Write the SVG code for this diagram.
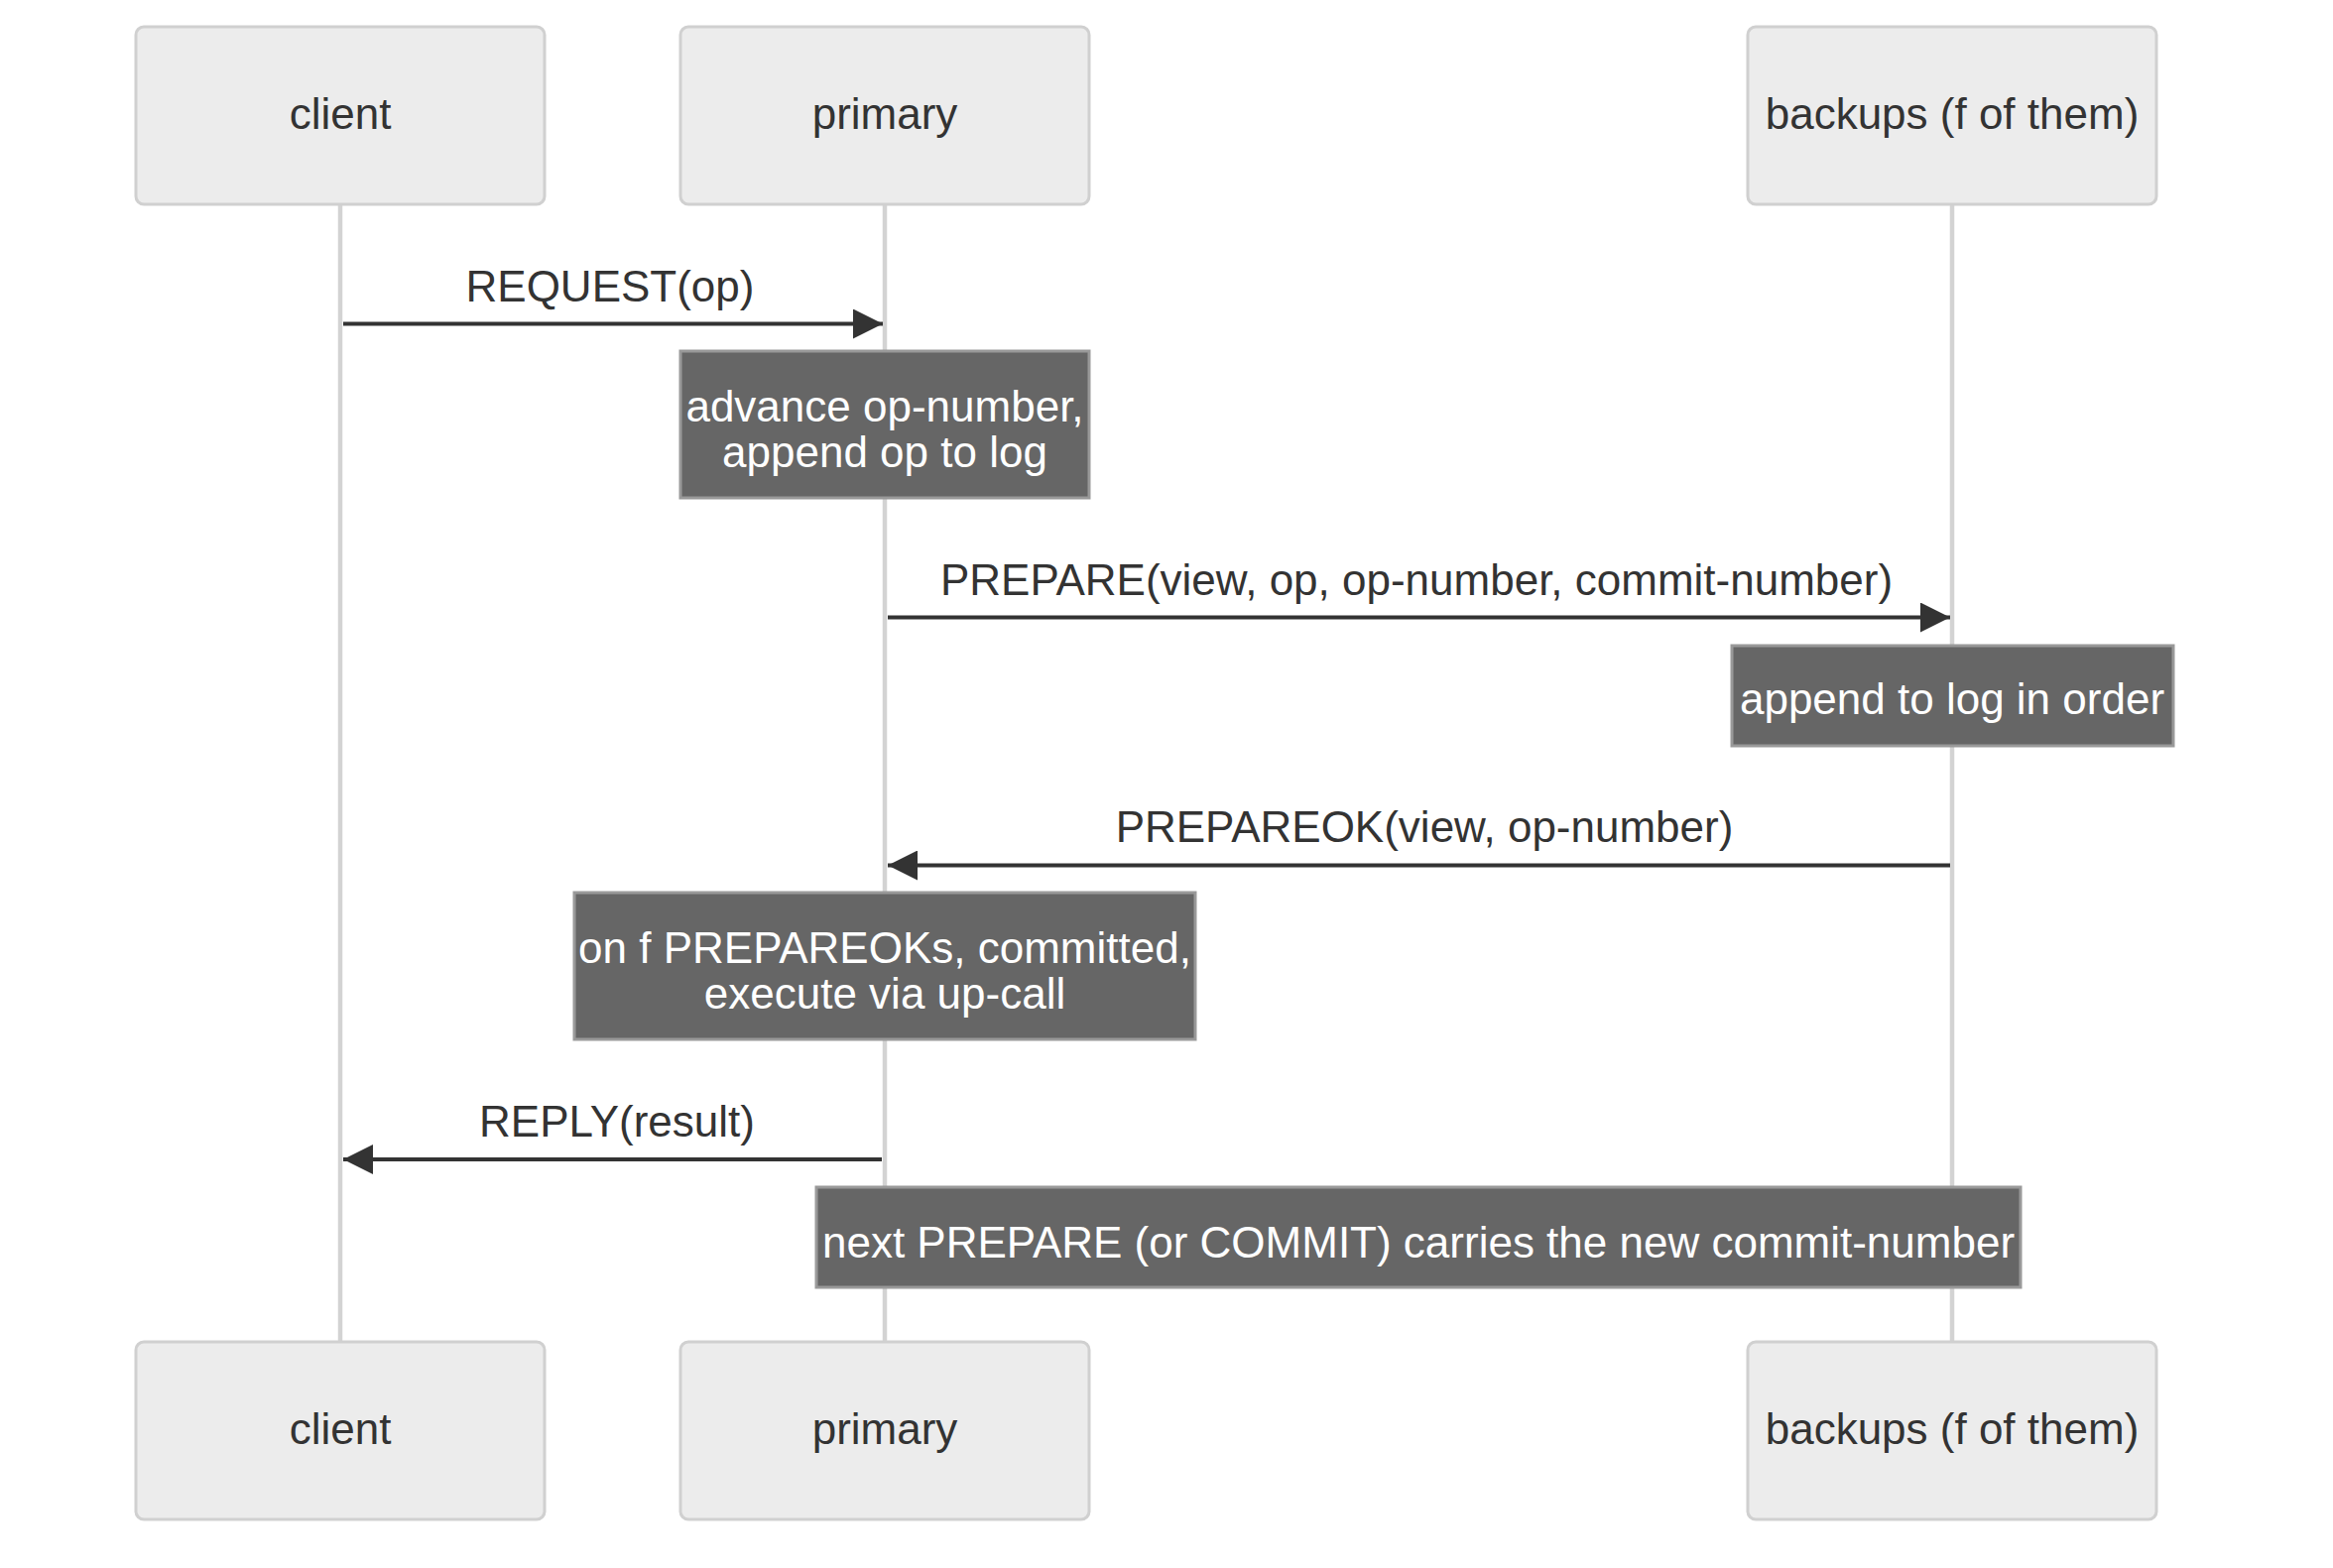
<svg xmlns="http://www.w3.org/2000/svg" width="2352" height="1581" viewBox="0 0 2352 1581">
<style>
.actor rect{fill:#ececec;stroke:#d0d0d0;stroke-width:3}
.actor text{font-family:"Liberation Sans",Arial,sans-serif;font-size:44px;fill:#333;text-anchor:middle}
.life{stroke:#d3d3d3;stroke-width:4.5}
.msg{stroke:#333;stroke-width:4;fill:none}
.lbl{font-family:"Liberation Sans",Arial,sans-serif;font-size:44px;fill:#333;text-anchor:middle}
.note rect{fill:#666;stroke:#999;stroke-width:3}
.note text{font-family:"Liberation Sans",Arial,sans-serif;font-size:44px;fill:#fff;text-anchor:middle}
</style>
<defs>
<marker id="ah" markerUnits="userSpaceOnUse" markerWidth="32" markerHeight="30" refX="30" refY="15" orient="auto">
<path d="M0,0 L30,15 L0,30 z" fill="#333"/>
</marker>
</defs>
<rect width="2352" height="1581" fill="#fff"/>
<g id="lifelines">
<line class="life" x1="343" y1="206" x2="343" y2="1353"/>
<line class="life" x1="892" y1="206" x2="892" y2="1353"/>
<line class="life" x1="1968" y1="206" x2="1968" y2="1353"/>
</g>
<g id="actor-client-top" class="actor"><rect x="137" y="27" width="412" height="179" rx="8"/><text x="343" y="129.5">client</text></g>
<g id="actor-primary-top" class="actor"><rect x="686" y="27" width="412" height="179" rx="8"/><text x="892" y="129.5">primary</text></g>
<g id="actor-backups-top" class="actor"><rect x="1762" y="27" width="412" height="179" rx="8"/><text x="1968" y="129.5">backups (f of them)</text></g>
<g id="actor-client-bottom" class="actor"><rect x="137" y="1353" width="412" height="179" rx="8"/><text x="343" y="1455.5">client</text></g>
<g id="actor-primary-bottom" class="actor"><rect x="686" y="1353" width="412" height="179" rx="8"/><text x="892" y="1455.5">primary</text></g>
<g id="actor-backups-bottom" class="actor"><rect x="1762" y="1353" width="412" height="179" rx="8"/><text x="1968" y="1455.5">backups (f of them)</text></g>
<g id="connectors">
<line class="msg" x1="346" y1="326.5" x2="890" y2="326.5" marker-end="url(#ah)"/>
<text class="lbl" x="615" y="304">REQUEST(op)</text>
<line class="msg" x1="895" y1="622.5" x2="1966" y2="622.5" marker-end="url(#ah)"/>
<text class="lbl" x="1428" y="600">PREPARE(view, op, op-number, commit-number)</text>
<line class="msg" x1="1966" y1="872.5" x2="895" y2="872.5" marker-end="url(#ah)"/>
<text class="lbl" x="1436" y="849">PREPAREOK(view, op-number)</text>
<line class="msg" x1="889" y1="1169" x2="346" y2="1169" marker-end="url(#ah)"/>
<text class="lbl" x="622" y="1146">REPLY(result)</text>
</g>
<g id="note-advance" class="note"><rect x="686" y="354" width="412" height="148"/><text x="892" y="424.5">advance op-number,</text><text x="892" y="470.5">append op to log</text></g>
<g id="note-append" class="note"><rect x="1746" y="651" width="445" height="101"/><text x="1968" y="719.5">append to log in order</text></g>
<g id="note-commit" class="note"><rect x="579" y="900" width="626" height="148"/><text x="892" y="970.5">on f PREPAREOKs, committed,</text><text x="892" y="1017">execute via up-call</text></g>
<g id="note-next" class="note"><rect x="823" y="1197" width="1214" height="101"/><text x="1430" y="1267.5">next PREPARE (or COMMIT) carries the new commit-number</text></g>
</svg>
